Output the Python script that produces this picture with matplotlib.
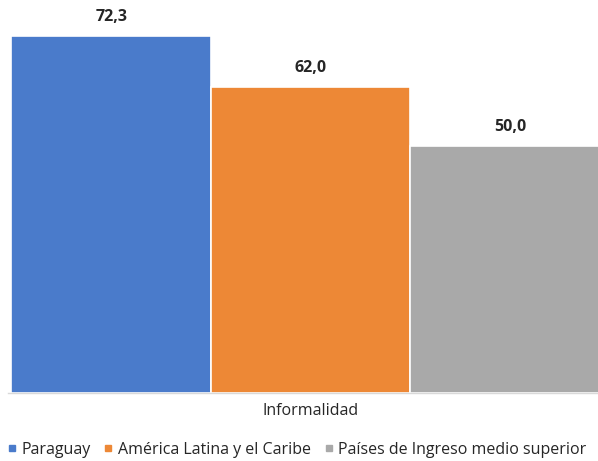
import matplotlib
matplotlib.use("Agg")
import matplotlib.pyplot as plt
from matplotlib.lines import Line2D

# data
series = ["Paraguay", "América Latina y el Caribe", "Países de Ingreso medio superior"]
values = [72.3, 62.0, 50.0]
category = "Informalidad"
colors = ["#4a7bcb", "#ed8836", "#a9a9a9"]

plt.rcParams['font.family'] = ['Open Sans', 'DejaVu Sans']

fig = plt.figure(figsize=(5.98, 4.61), dpi=100)
ax = fig.add_axes([8 / 598, 68 / 461, 590 / 598, 370.5 / 461])

pos = [-1, 0, 1]
bars = ax.bar(pos, values, width=1.0, color=colors, edgecolor="white", linewidth=1.2)

for x, v in zip(pos, values):
    ax.text(x, v + 3.8, f"{v:.1f}".replace(".", ","), ha="center", va="center",
            fontsize=11.5, fontweight="bold", color="#262626", clip_on=False)

ax.set_xlim(-1.5175, 1.44)
ax.set_ylim(0, 75)
ax.set_yticks([])
ax.set_xticks([0])
ax.set_xticklabels([category], fontsize=11.5, color="#262626")
ax.tick_params(axis="x", length=0, pad=7)
for s in ["top", "right", "left"]:
    ax.spines[s].set_visible(False)
ax.spines["bottom"].set_color("#d9d9d9")
ax.spines["bottom"].set_linewidth(1)

handles = [Line2D([], [], marker="s", linestyle="none", markersize=5,
                  markerfacecolor=c, markeredgecolor=c) for c in colors]
fig.legend(handles, series, loc="center", bbox_to_anchor=(0.495, 1 - 450 / 461),
           ncol=3, frameon=False, fontsize=11.5, handletextpad=0.2, handlelength=0.8,
           columnspacing=0.7, labelcolor="#262626")

fig.savefig("out.png", dpi=100)
